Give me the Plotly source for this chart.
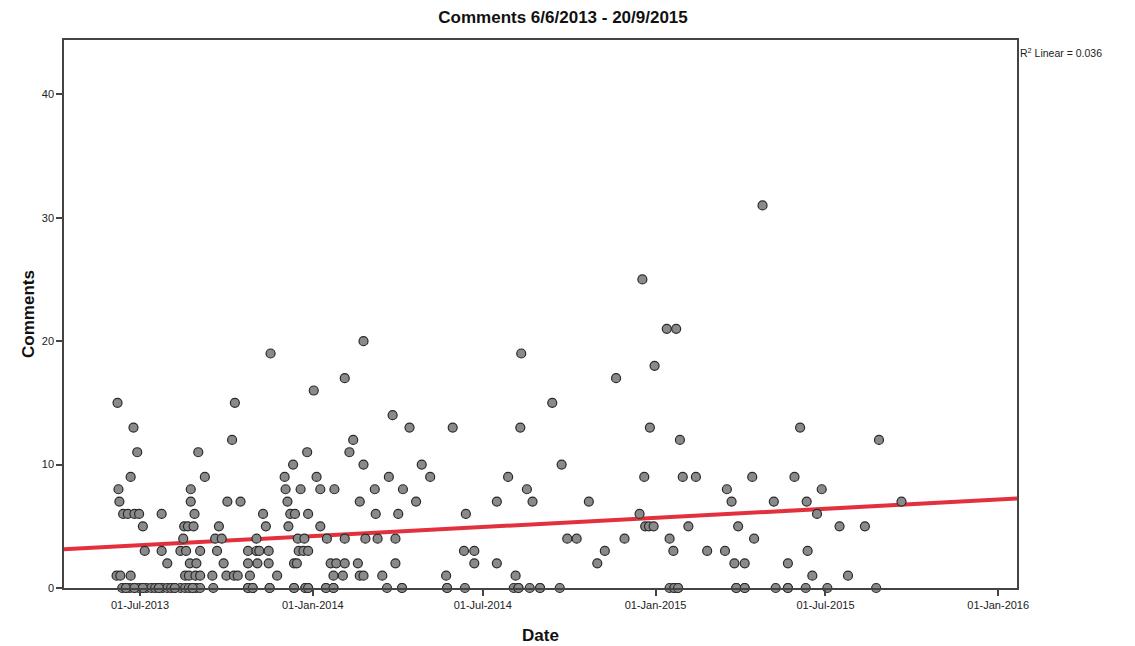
import numpy as np
import pandas as pd
import plotly.graph_objects as go

# Posts: day number since 6/6/2013 and number of comments
start_date = "2013-06-06"
post_day = [
    0, 1, 2, 3, 4, 6, 7, 10, 12, 14, 15, 15, 18, 19, 19, 22, 24, 24, 28, 28,
    30, 32, 37, 41, 45, 48, 48, 49, 54, 54, 58, 62, 68, 68, 71, 72, 73, 73, 74, 76,
    77, 77, 78, 79, 79, 81, 82, 83, 84, 85, 85, 87, 89, 89, 89, 94, 102, 103, 105, 107,
    109, 112, 114, 117, 118, 123, 125, 126, 129, 132, 140, 140, 140, 142, 145, 149, 149, 150, 152, 156,
    159, 162, 162, 163, 164, 171, 179, 180, 182, 183, 185, 188, 189, 189, 190, 192, 193, 194, 196, 199,
    200, 201, 203, 204, 204, 204, 210, 213, 217, 217, 223, 224, 228, 231, 231, 232, 234, 241, 243, 243,
    243, 248, 252, 257, 259, 259, 263, 263, 263, 265, 275, 276, 278, 283, 288, 290, 294, 297, 297, 300,
    304, 305, 312, 319, 325, 334, 351, 352, 358, 370, 371, 372, 381, 381, 405, 405, 417, 423, 425, 428,
    430, 431, 437, 440, 443, 451, 464, 472, 474, 480, 490, 503, 512, 520, 532, 541, 557, 560, 562, 563,
    567, 568, 572, 573, 586, 589, 589, 593, 594, 596, 598, 600, 603, 609, 617, 629, 648, 650, 655, 658,
    660, 662, 669, 669, 677, 679, 688, 700, 702, 715, 715, 722, 728, 734, 735, 736, 741, 746, 751, 757,
    770, 779, 797, 809, 812, 836,
]
comments = [
    1, 15, 8, 7, 1, 0, 6, 0, 6, 0, 9, 1, 13, 6, 0, 11, 6, 0, 5, 0,
    3, 0, 0, 0, 0, 6, 3, 0, 2, 0, 0, 0, 3, 0, 4, 5, 1, 0, 3, 5,
    1, 0, 2, 8, 7, 0, 5, 6, 1, 2, 0, 11, 3, 1, 0, 9, 1, 0, 4, 3,
    5, 4, 2, 1, 7, 12, 1, 15, 1, 7, 3, 2, 0, 1, 0, 4, 3, 2, 3, 6,
    5, 3, 2, 0, 19, 1, 9, 8, 7, 5, 6, 10, 2, 0, 6, 2, 4, 3, 8, 3,
    4, 0, 11, 6, 3, 0, 16, 9, 8, 5, 0, 4, 2, 1, 0, 8, 2, 1, 17, 4,
    2, 11, 12, 2, 7, 1, 20, 10, 1, 4, 8, 6, 4, 1, 0, 9, 14, 4, 2, 6,
    0, 8, 13, 7, 10, 9, 1, 0, 13, 3, 0, 6, 3, 2, 7, 2, 9, 0, 1, 0,
    13, 19, 8, 0, 7, 0, 15, 0, 10, 4, 4, 7, 2, 3, 17, 4, 6, 25, 9, 5,
    5, 13, 5, 18, 21, 4, 0, 3, 0, 21, 0, 12, 9, 5, 9, 3, 3, 8, 7, 2,
    0, 5, 2, 0, 9, 4, 31, 7, 0, 2, 0, 9, 13, 0, 7, 3, 1, 6, 8, 0,
    5, 1, 5, 0, 12, 7,
]
# zero-comment posts sitting on top of others on the baseline
stacked_zero_days = [10, 19, 28, 45, 62, 81, 140, 145, 163, 189, 201, 204, 223, 231,
                     304, 352, 428, 451, 594, 598, 660, 669, 715]
stacked_zero_comments = [0] * len(stacked_zero_days)

x_ticks = ["2013-07-01", "2014-01-01", "2014-07-01", "2015-01-01", "2015-07-01", "2016-01-01"]
y_ticks = [0, 10, 20, 30, 40]

all_days = post_day + stacked_zero_days
all_comments = comments + stacked_zero_comments

t0 = pd.Timestamp(start_date)
dates = t0 + pd.to_timedelta(all_days, unit="D")

# Axis limits (days relative to start)
x_lo, x_hi = -56, 959
x_range = [t0 + pd.Timedelta(days=x_lo), t0 + pd.Timedelta(days=x_hi)]

# Linear fit line
slope, intercept = np.polyfit(all_days, all_comments, 1)
fit_days = np.array([x_lo, x_hi])
fit_dates = t0 + pd.to_timedelta(fit_days, unit="D")
fit_vals = intercept + slope * fit_days

fig = go.Figure()

fig.add_trace(go.Scatter(
    x=fit_dates, y=fit_vals, mode="lines",
    line=dict(color="#e2313d", width=4),
    showlegend=False, hoverinfo="skip", cliponaxis=True,
))

fig.add_trace(go.Scatter(
    x=dates, y=all_comments, mode="markers",
    marker=dict(size=9, color="#8a8a8a", line=dict(color="#2a2a2a", width=1.2)),
    showlegend=False, cliponaxis=False,
))

fig.update_layout(
    width=1127, height=638,
    margin=dict(l=56, r=118, t=32, b=58),
    paper_bgcolor="white", plot_bgcolor="white",
    font=dict(family="Liberation Sans, Arial, sans-serif", color="#222"),
    title=dict(text="<b>Comments 6/6/2013 - 20/9/2015</b>", x=0.4925, xanchor="center",
               y=0.986, yanchor="middle", font=dict(size=17, color="#111")),
    annotations=[dict(
        text="R<sup>2</sup> Linear = 0.036", xref="paper", yref="paper",
        x=1, y=0.978, xanchor="left", yanchor="middle", xshift=1,
        showarrow=False, font=dict(size=10.5, color="#222"),
    )],
)

fig.update_xaxes(
    range=x_range, tickvals=x_ticks, tickformat="%d-%b-%Y",
    showgrid=False, zeroline=False, automargin=False,
    showline=True, linecolor="#444", linewidth=1.5, mirror=True,
    ticks="outside", ticklen=6, tickcolor="#444", tickwidth=1.5,
    tickfont=dict(size=11, color="#222"),
    title=dict(text="<b>Date</b>", font=dict(size=17, color="#111"), standoff=19),
)
fig.update_yaxes(
    range=[0, 44.4], tickvals=y_ticks,
    showgrid=False, zeroline=False, automargin=False,
    showline=True, linecolor="#444", linewidth=1.5, mirror=True,
    ticks="outside", ticklen=6, tickcolor="#444", tickwidth=1.5,
    tickfont=dict(size=11, color="#222"),
    title=dict(text="<b>Comments</b>", font=dict(size=17, color="#111"), standoff=3),
)

fig.write_html("out.html")
